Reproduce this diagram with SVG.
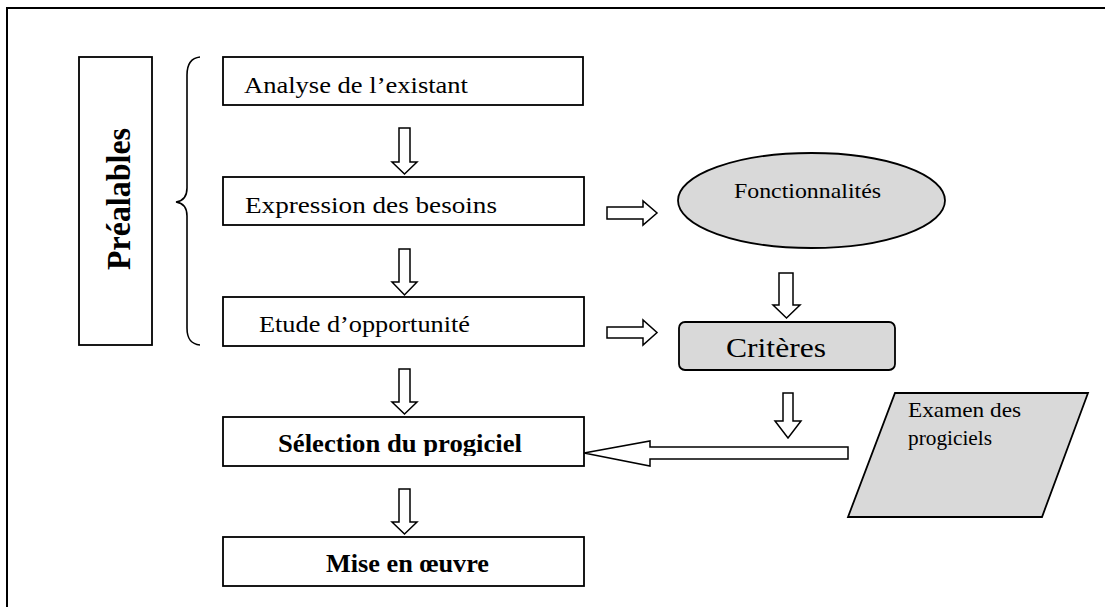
<svg xmlns="http://www.w3.org/2000/svg" width="1105" height="607" viewBox="0 0 1105 607">
  <style>
    .box { fill: #ffffff; stroke: #000000; stroke-width: 1.8; }
    .grey { fill: #d9d9d9; stroke: #000000; stroke-width: 1.8; }
    .arrow { fill: #ffffff; stroke: #000000; stroke-width: 1.5; stroke-linejoin: miter; }
    .t { font-family: "Liberation Serif", "Times New Roman", serif; fill: #000000; }
    .r { font-size: 23px; }
    .b { font-size: 25px; font-weight: bold; }
  </style>
  <defs>
    <clipPath id="selClip">
      <rect x="223" y="417" width="361" height="39"/>
    </clipPath>
  </defs>

  <!-- outer frame -->
  <rect x="7" y="8" width="1110" height="610" fill="#ffffff" stroke="#000000" stroke-width="2"/>

  <!-- side label -->
  <g id="prealables">
    <rect class="box" x="79" y="57" width="73" height="288"/>
    <text class="t" font-size="32" font-weight="bold" text-anchor="middle" textLength="142" lengthAdjust="spacingAndGlyphs" transform="translate(130,199) rotate(-90) scale(1,1.08)" x="0" y="0">Préalables</text>
  </g>

  <!-- brace grouping the preliminary steps -->
  <g id="brace">
    <path d="M200,57 C191,58 187,64 187,75 L187,188 C187,197 183,201 176,202 C183,203 187,207 187,216 L187,328 C187,339 191,344 200,345" fill="none" stroke="#000000" stroke-width="1.6"/>
  </g>

  <g id="analyse">
    <rect class="box" x="223" y="57" width="360" height="48"/>
    <text class="t r" x="244" y="93" textLength="224" lengthAdjust="spacingAndGlyphs">Analyse de l’existant</text>
  </g>

  <g id="expression">
    <rect class="box" x="223" y="177" width="361" height="48"/>
    <text class="t r" x="245" y="213" textLength="252" lengthAdjust="spacingAndGlyphs">Expression des besoins</text>
  </g>

  <g id="etude">
    <rect class="box" x="223" y="297" width="361" height="49"/>
    <text class="t r" x="259" y="332" textLength="211" lengthAdjust="spacingAndGlyphs">Etude d’opportunité</text>
  </g>

  <g id="selection">
    <rect class="box" x="223" y="417" width="361" height="49"/>
    <text class="t b" x="278" y="452" textLength="244" lengthAdjust="spacingAndGlyphs" clip-path="url(#selClip)">Sélection du progiciel</text>
  </g>

  <g id="mise">
    <rect class="box" x="223" y="537" width="361" height="49"/>
    <text class="t b" x="326" y="572" textLength="163" lengthAdjust="spacingAndGlyphs">Mise en œuvre</text>
  </g>

  <g id="fonctionnalites">
    <ellipse class="grey" cx="811.5" cy="200.5" rx="133.5" ry="47.5"/>
    <text class="t" font-size="21" x="734" y="198" textLength="147" lengthAdjust="spacingAndGlyphs">Fonctionnalités</text>
  </g>

  <g id="criteres">
    <rect class="grey" x="679" y="322" width="216" height="48" rx="6" ry="6"/>
    <text class="t" font-size="28" x="726" y="357" textLength="100" lengthAdjust="spacingAndGlyphs">Critères</text>
  </g>

  <g id="examen">
    <polygon class="grey" points="895,393 1088,393 1042,517 848,517"/>
    <text class="t" font-size="21" x="908" y="417" textLength="113" lengthAdjust="spacingAndGlyphs">Examen des</text>
    <text class="t" font-size="21" x="908" y="445" textLength="84" lengthAdjust="spacingAndGlyphs">progiciels</text>
  </g>

  <!-- block arrows -->
  <g id="connectors">
    <polygon class="arrow" points="399,128 410,128 410,162 417,162 404.5,174 392,162 399,162"/>
    <polygon class="arrow" points="399,249 410,249 410,282 417,282 404.5,295 392,282 399,282"/>
    <polygon class="arrow" points="399,369 410,369 410,402 417,402 404.5,414 392,402 399,402"/>
    <polygon class="arrow" points="399,489 410,489 410,522 417,522 404.5,534 392,522 399,522"/>
    <polygon class="arrow" points="607,207 643,207 643,201 657,213 643,225 643,219 607,219"/>
    <polygon class="arrow" points="607,327 643,327 643,320 657,332.5 643,345 643,338 607,338"/>
    <polygon class="arrow" points="779,273 793,273 793,305 800,305 786.5,318 773,305 779,305"/>
    <polygon class="arrow" points="783,393 793,393 793,421 801,421 788,438 775,421 783,421"/>
    <polygon class="arrow" points="848,447 848,459 650,459 650,466 584,453 650,441 650,447"/>
  </g>
</svg>
